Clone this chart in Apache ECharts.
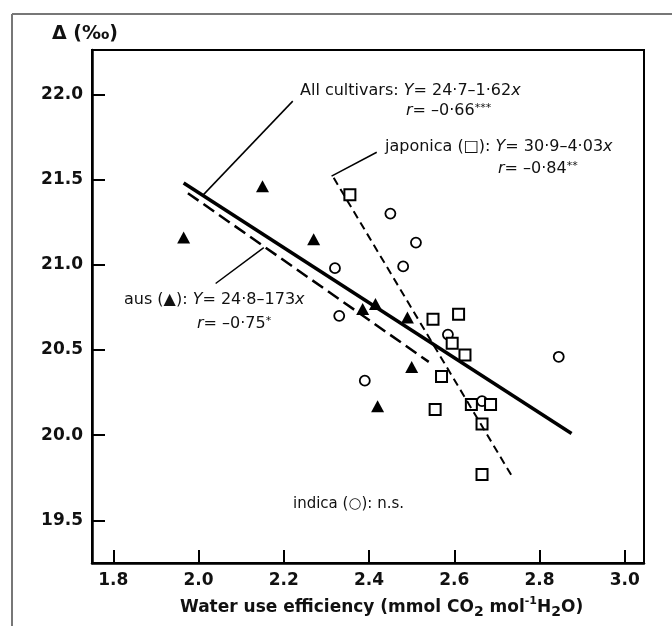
<!DOCTYPE html>
<html>
<head>
<meta charset="utf-8">
<script src="https://cdn.jsdelivr.net/npm/echarts@6/dist/echarts.min.js"></script>
<style>
  html, body { margin: 0; padding: 0; background: #fff; }
  #chart { width: 672px; height: 626px; }
</style>
</head>
<body>
<div id="chart"></div>
<script>
// tick values
const xTicks = [1.8, 2.0, 2.2, 2.4, 2.6, 2.8, 3.0];
const yTicks = [19.5, 20.0, 20.5, 21.0, 21.5, 22.0];

// [water use efficiency, delta]
const ausPoints = [[1.965, 21.16], [2.15, 21.46], [2.27, 21.15], [2.385, 20.74], [2.415, 20.77], [2.49, 20.69], [2.50, 20.40], [2.42, 20.17]];
const indicaPoints = [[2.32, 20.98], [2.33, 20.70], [2.39, 20.32], [2.45, 21.30], [2.48, 20.99], [2.51, 21.13], [2.585, 20.59], [2.665, 20.20], [2.845, 20.46]];
const japonicaPoints = [[2.355, 21.41], [2.55, 20.68], [2.61, 20.71], [2.595, 20.54], [2.625, 20.47], [2.57, 20.345], [2.555, 20.15], [2.64, 20.18], [2.685, 20.18], [2.665, 20.065], [2.665, 19.77]];

// regression lines (end points)
const allFit = [[1.965, 21.48], [2.875, 20.01]];
const ausFit = [[1.975, 21.42], [2.54, 20.43]];
const japonicaFit = [[2.317, 21.51], [2.735, 19.76]];

// label pointer lines
const allLeader = [[2.011, 21.41], [2.221, 21.96]];
const ausLeader = [[2.153, 21.10], [2.040, 20.89]];
const japonicaLeader = [[2.312, 21.52], [2.418, 21.66]];

var chart = echarts.init(document.getElementById('chart'));

const geoFont = 'DejaVu Sans';
const rich = {
  n: { fontSize: 16, fontFamily: geoFont, fill: '#111' },
  i: { fontSize: 16, fontFamily: geoFont, fontStyle: 'italic', fill: '#111' },
  s: { fontSize: 11, fontFamily: geoFont, fill: '#111', verticalAlign: 'top' }
};

function annotation(left, top, text) {
  return { type: 'text', left: left, top: top, style: { text: text, rich: rich } };
}

function lineSeries(data, width, type) {
  return {
    type: 'line', data: data, symbol: 'none', silent: true,
    lineStyle: { color: '#000', width: width, type: type }
  };
}

var option = {
  backgroundColor: '#fff',
  animation: false,
  grid: { left: 92, top: 50, right: 28, bottom: 63, show: true, borderColor: '#000', borderWidth: 2 },
  xAxis: {
    type: 'value', min: 1.75, max: 3.045,
    axisLine: { lineStyle: { color: '#000', width: 2.5 } },
    axisTick: { inside: true, length: 13, customValues: xTicks, lineStyle: { color: '#000', width: 2 } },
    axisLabel: { customValues: xTicks, formatter: v => v.toFixed(1), margin: 9, fontSize: 17, fontWeight: 'bold', fontFamily: geoFont, color: '#111' },
    splitLine: { show: false }
  },
  yAxis: {
    type: 'value', min: 19.25, max: 22.26,
    axisLine: { show: true, lineStyle: { color: '#000', width: 2.5 } },
    axisTick: { show: true, inside: true, length: 13, customValues: yTicks, lineStyle: { color: '#000', width: 2 } },
    axisLabel: { customValues: yTicks, formatter: v => v.toFixed(1), margin: 9, fontSize: 17, fontWeight: 'bold', fontFamily: geoFont, color: '#111' },
    splitLine: { show: false }
  },
  series: [
    lineSeries(allLeader, 1.5, 'solid'),
    lineSeries(ausLeader, 1.5, 'solid'),
    lineSeries(japonicaLeader, 1.5, 'solid'),
    lineSeries(allFit, 3.5, 'solid'),
    lineSeries(ausFit, 2.5, [13, 6]),
    lineSeries(japonicaFit, 2, [8, 5]),
    {
      type: 'scatter', data: indicaPoints, symbol: 'circle', symbolSize: 10,
      itemStyle: { color: '#fff', borderColor: '#000', borderWidth: 1.8, opacity: 1 }
    },
    {
      type: 'scatter', data: japonicaPoints, symbol: 'rect', symbolSize: 11,
      itemStyle: { color: '#fff', borderColor: '#000', borderWidth: 2, opacity: 1 }
    },
    {
      type: 'scatter', data: ausPoints, symbol: 'triangle', symbolSize: [13, 12],
      itemStyle: { color: '#000', opacity: 1 }
    }
  ],
  graphic: [
    { type: 'line', shape: { x1: 12, y1: 14, x2: 672, y2: 14 }, style: { stroke: '#777', lineWidth: 2 } },
    { type: 'line', shape: { x1: 12, y1: 14, x2: 12, y2: 626 }, style: { stroke: '#777', lineWidth: 2 } },
    { type: 'text', left: 52, top: 25, style: { text: 'Δ (‰)', fontSize: 19, fontFamily: geoFont, fontWeight: 'bold', fill: '#111' } },
    annotation(300, 83, '{n|All cultivars: }{i|Y}{n|= 24·7–1·62}{i|x}'),
    annotation(406, 103, '{i|r}{n|= –0·66}{s|***}'),
    annotation(385, 139, '{n|japonica (□): }{i|Y}{n|= 30·9–4·03}{i|x}'),
    annotation(498, 161, '{i|r}{n|= –0·84}{s|**}'),
    annotation(124, 292, '{n|aus (▲): }{i|Y}{n|= 24·8–173}{i|x}'),
    annotation(197, 316, '{i|r}{n|= –0·75}{s|*}'),
    { type: 'text', left: 293, top: 497, style: { text: 'indica (○): n.s.', fontSize: 15, fontFamily: geoFont, fill: '#111' } },
    {
      type: 'text', left: 180, top: 596,
      style: {
        text: '{t|Water use efficiency (mmol CO}{b|2}{t| mol}{p|-1}{t|H}{b|2}{t|O)}',
        rich: {
          t: { fontSize: 17, fontFamily: geoFont, fontWeight: 'bold', fill: '#111', lineHeight: 23 },
          b: { fontSize: 14, fontFamily: geoFont, fontWeight: 'bold', fill: '#111', verticalAlign: 'bottom' },
          p: { fontSize: 11, fontFamily: geoFont, fontWeight: 'bold', fill: '#111', verticalAlign: 'top' }
        }
      }
    }
  ]
};

chart.setOption(option);
</script>
</body>
</html>
